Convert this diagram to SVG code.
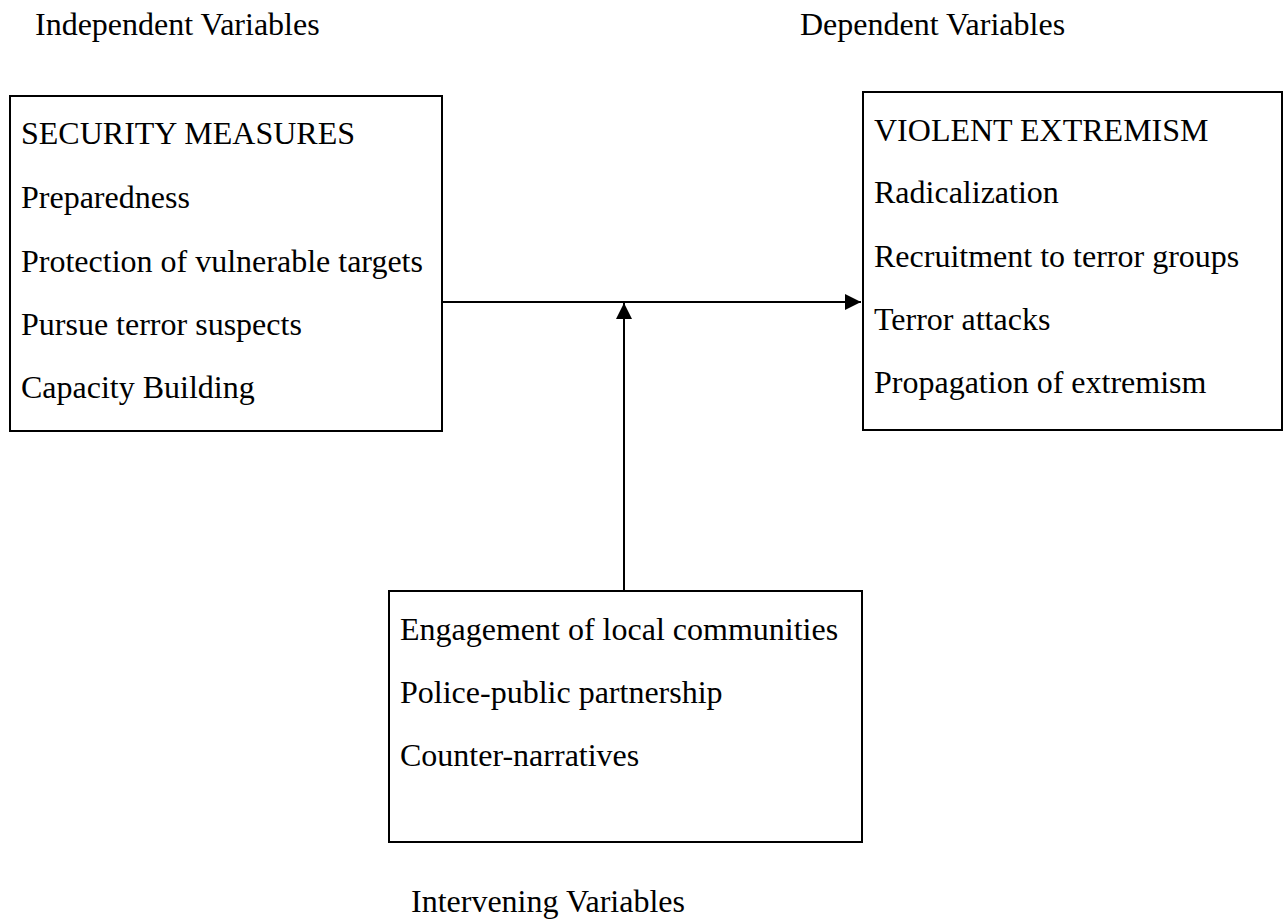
<svg xmlns="http://www.w3.org/2000/svg" width="1288" height="920" viewBox="0 0 1288 920">
<style>
text{font-family:"Liberation Serif","Times New Roman",serif;font-size:32px;fill:#000}
.box{fill:#fff;stroke:#000;stroke-width:2}
.conn{fill:none;stroke:#000;stroke-width:2}
</style>
<defs>
<marker id="arr" markerWidth="16" markerHeight="16" refX="16" refY="8" orient="auto" markerUnits="userSpaceOnUse">
<path d="M0,0 L16,8 L0,16 Z" fill="#000"/>
</marker>
</defs>
<rect width="1288" height="920" fill="#fff"/>
<g id="labels">
<text x="35" y="35">Independent Variables</text>
<text x="800" y="35">Dependent Variables</text>
<text x="411" y="912">Intervening Variables</text>
</g>
<g id="connectors">
<line class="conn" x1="442" y1="302" x2="861" y2="302" marker-end="url(#arr)"/>
<line class="conn" x1="624" y1="591" x2="624" y2="303" marker-end="url(#arr)"/>
</g>
<g id="security">
<rect class="box" x="10" y="96" width="432" height="335"/>
<text x="21" y="144">SECURITY MEASURES</text>
<text x="21" y="208">Preparedness</text>
<text x="21" y="272">Protection of vulnerable targets</text>
<text x="21" y="335">Pursue terror suspects</text>
<text x="21" y="398">Capacity Building</text>
</g>
<g id="extremism">
<rect class="box" x="863" y="92" width="419" height="338"/>
<text x="874" y="141">VIOLENT EXTREMISM</text>
<text x="874" y="203">Radicalization</text>
<text x="874" y="267">Recruitment to terror groups</text>
<text x="874" y="330">Terror attacks</text>
<text x="874" y="393">Propagation of extremism</text>
</g>
<g id="intervening">
<rect class="box" x="389" y="591" width="473" height="251"/>
<text x="400" y="640">Engagement of local communities</text>
<text x="400" y="703">Police-public partnership</text>
<text x="400" y="766">Counter-narratives</text>
</g>
</svg>
